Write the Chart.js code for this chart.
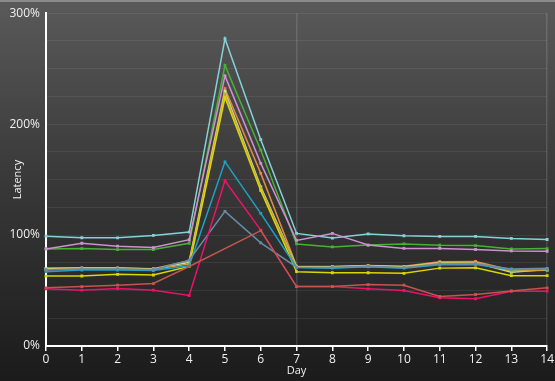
<!doctype html>
<html lang="en">
  <head>
    <title>Latency by Day</title>
    <meta charset="utf-8">
    <script src="https://cdn.jsdelivr.net/npm/chart.js"></script>
    <style>
      html, body { margin: 0; padding: 0; }
      body {
        width: 555px; height: 381px; overflow: hidden;
        background: linear-gradient(#5a5a5a 0%, #3a3a3a 45%, #1b1b1b 100%);
        box-sizing: border-box;
        border-top: 2px solid #8a8a8a;
      }
      #chartContainer { position: absolute; left: 0; top: 0; width: 555px; height: 381px; }
    </style>
  </head>
  <body>
    <div id="chartContainer">
      <canvas id="myChart"></canvas>
    </div>

<script type="text/javascript">
  // days on the x axis
  var days = ['0','1','2','3','4','5','6','7','8','9','10','11','12','13','14'];
  var yTicks = [0, 100, 200, 300];

  // latency values (%), one array per series
  var cyan      = [99, 97.6, 97.5, 99.7, 102.7, 277, 186, 101.5, 97.3, 101, 99.4, 98.8, 98.8, 97, 96];
  var green     = [87.5, 87.8, 86.9, 87, 92.6, 253, 176.5, 92, 89.3, 91, 92, 90.8, 90.5, 87.5, 87.8];
  var violet    = [87.5, 92.6, 90, 88.7, 95.8, 243.5, 164.6, 95.2, 101.5, 91, 88, 88, 87, 85.7, 85.4];
  var orange    = [69.6, 70.4, 70.4, 69.6, 76.8, 232, 155.6, 72, 71.6, 72.5, 71.8, 76, 76.2, 68.5, 68.5];
  var paleGreen = [70, 70.2, 70.2, 69.4, 75.3, 229.5, 143.5, 71.7, 71.4, 72.3, 71.4, 75, 75, 66.4, 68.9];
  var gold      = [69, 69.8, 69.8, 69, 74, 227, 142, 71.2, 71, 72, 71, 74.5, 74.8, 67.5, 68.2];
  var yellow    = [63, 63.1, 64.6, 64, 71.7, 224, 140, 67, 66, 66, 65.5, 70.2, 70.5, 63.4, 63.4];
  var blue      = [67, 68.4, 68.5, 68, 72.3, 166, 119.5, 70.8, 70.2, 71.4, 70.2, 73.2, 73.5, 69, 69.4];
  var grayBlue  = [68.5, 69.5, 69.5, 68.8, 77.4, 121.4, 93, 71, 70.8, 71.8, 70.6, 74, 74.2, 69.4, 70];
  var brown     = [52.4, 53.6, 54.8, 56.3, 71.7, null, 104, 53.6, 53.6, 55.4, 54.8, 44.6, 46.4, 49.6, 52.4];
  var pink      = [51.5, 50.3, 51.8, 50.3, 45.5, 149, 104.5, 53.6, 53.6, 51.5, 50, 43.5, 42.6, 49.4, 49.4];

  function series(name, values, color) {
    return {
      label: name,
      data: values,
      borderColor: color,
      backgroundColor: color,
      borderWidth: 1.5,
      pointStyle: 'rect',
      pointRadius: 2,
      pointBorderWidth: 0,
      tension: 0,
      spanGaps: true
    };
  }

  const data = {
    labels: days,
    datasets: [
      series('Brown', brown, '#c4544e'),
      series('Pink', pink, '#ec1268'),
      series('Gray blue', grayBlue, '#6a8aaa'),
      series('Blue', blue, '#1ea2c4'),
      series('Yellow', yellow, '#d9d700'),
      series('Gold', gold, '#c9a43a'),
      series('Pale green', paleGreen, '#bfe6a4'),
      series('Orange', orange, '#e48a3e'),
      series('Violet', violet, '#cf8fd2'),
      series('Green', green, '#46b234'),
      series('Cyan', cyan, '#84d2d8')
    ]
  };

  const config = {
    type: 'line',
    data: data,
    options: {
      responsive: false,
      animation: false,
      layout: { padding: { left: 4, right: 7, top: 7, bottom: 4 } },
      plugins: {
        legend: { display: false },
        tooltip: { enabled: false }
      },
      scales: {
        x: {
          type: 'category',
          offset: false,
          border: { color: '#ffffff', width: 2 },
          grid: {
            color: function (ctx) {
              var v = ctx.tick ? ctx.tick.value : -1;
              return (v === 7 || v === 14) ? 'rgba(255,255,255,0.13)' : 'rgba(0,0,0,0)';
            },
            tickColor: '#ffffff',
            tickLength: 5,
            tickWidth: 1.5,
            lineWidth: 1.5
          },
          ticks: {
            color: '#f0f0f0',
            font: { family: 'Open Sans', size: 12 },
            padding: 1,
            maxRotation: 0,
            autoSkip: false
          },
          title: {
            display: true,
            text: 'Day',
            color: '#f0f0f0',
            font: { family: 'Open Sans', size: 11 },
            padding: { top: -4, bottom: 0 }
          },
          afterFit: function (scale) { scale.height = 31; }
        },
        y: {
          min: 0,
          max: 300,
          border: { color: '#ffffff', width: 2 },
          grid: {
            color: 'rgba(255,255,255,0.07)',
            drawTicks: false
          },
          ticks: {
            stepSize: 25,
            color: '#f0f0f0',
            font: { family: 'Open Sans', size: 12 },
            padding: 6,
            callback: function (value) {
              return yTicks.indexOf(value) >= 0 ? value + '%' : '';
            }
          },
          title: {
            display: true,
            text: 'Latency',
            color: '#f0f0f0',
            font: { family: 'Open Sans', size: 11 },
            padding: { top: 7, bottom: 0 }
          },
          afterFit: function (scale) { scale.width = 42; }
        }
      }
    }
  };

  var canvas = document.getElementById('myChart');
  canvas.width = 555;
  canvas.height = 381;
  var myChart = new Chart(canvas, config);
</script>
  </body>
</html>
